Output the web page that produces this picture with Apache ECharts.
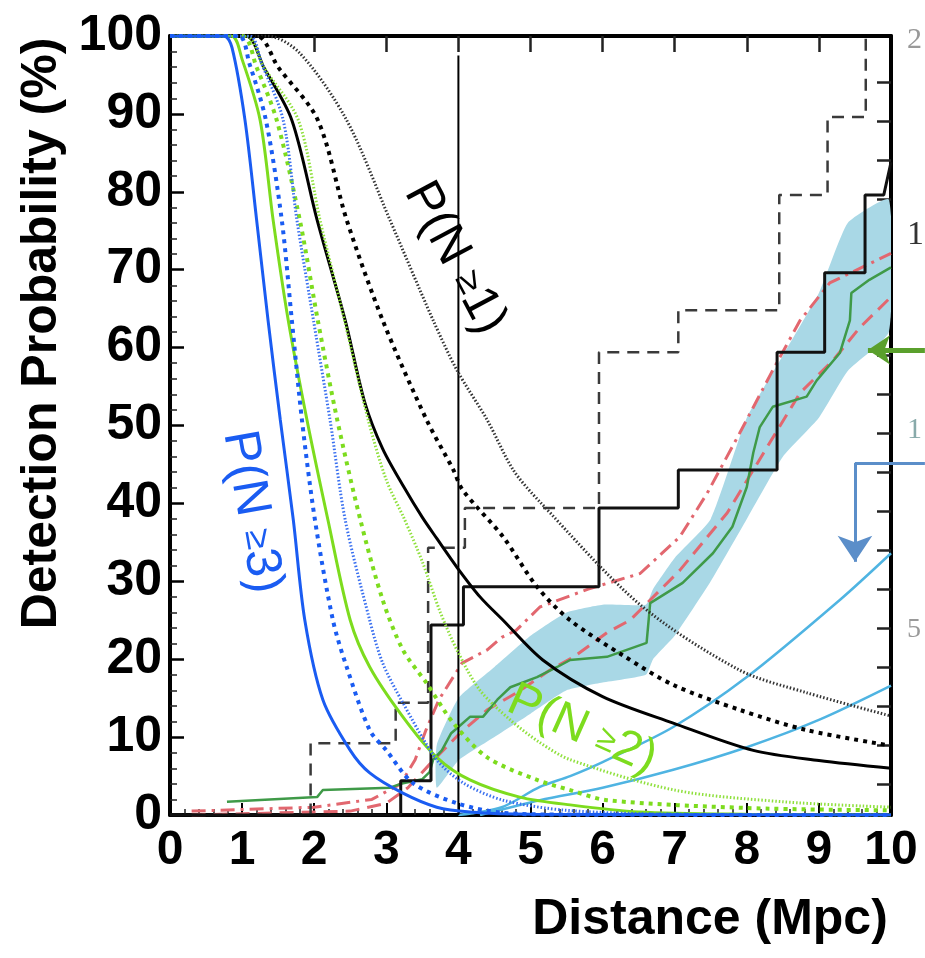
<!DOCTYPE html>
<html>
<head>
<meta charset="utf-8">
<script src="https://cdn.jsdelivr.net/npm/echarts@6/dist/echarts.min.js"></script>
<style>
  html, body { margin: 0; padding: 0; background: #fff; }
  #chart { width: 925px; height: 958px; }
</style>
</head>
<body>
<div id="chart"></div>
<script>
// Axis ticks
const xTicks = [0, 1, 2, 3, 4, 5, 6, 7, 8, 9, 10];
const yTicks = [0, 10, 20, 30, 40, 50, 60, 70, 80, 90, 100];
const topTickValues = [2, 3, 4, 5, 6, 7, 8, 9];
const rightTickValues = [4, 9, 14, 19, 24, 29, 34, 39, 44, 49, 54, 59, 64, 69, 74, 79, 84, 89, 94];

// Detection probability, P(N>=3)
const blueSolid = [[0,100],[0.75,100],[0.86,98.5],[1.04,89.2],[1.2,76.5],[1.36,63.5],[1.53,50.7],[1.71,37.9],[1.87,25],[2.12,14.8],[2.5,8.3],[2.77,5.4],[3.23,2.8],[3.7,1.0],[4.16,0.4],[5,0.1],[10,0]];
const blueDash = [[0,100],[0.95,100],[1.1,96.5],[1.33,89.2],[1.55,76.4],[1.69,63.5],[1.83,50.7],[2.01,37.9],[2.26,25],[2.45,19],[2.77,10.9],[3.0,8.3],[3.37,4.1],[3.98,1.5],[4.6,0.3],[5.5,0.05],[10,0]];
const blueDot = [[0,100],[1.1,100],[1.27,96.5],[1.57,89.2],[1.76,76.4],[1.99,63.5],[2.22,50.7],[2.43,37.9],[2.77,25],[2.95,19.5],[3.23,14.4],[3.7,7.1],[4.07,4.1],[4.62,1.9],[5.5,0.6],[7,0.1],[10,0]];

// Detection probability, P(N>=2)
const greenSolid = [[0,100],[0.85,100],[1.0,97],[1.25,89.2],[1.43,76.4],[1.64,63.5],[1.9,50.7],[2.19,37.9],[2.5,25],[2.77,19],[3.23,12.6],[3.7,7.4],[4.16,4.5],[4.85,2.3],[5.55,1.3],[6.5,0.4],[8,0.1],[10,0]];
const greenDash = [[0,100],[1.0,100],[1.2,96],[1.48,89.2],[1.8,76.4],[2.05,63.5],[2.32,50.7],[2.64,37.9],[2.95,27.6],[3.23,21.2],[3.56,16.9],[3.93,11.8],[4.4,7.4],[5.09,4.5],[5.55,3.2],[6.06,1.9],[8,0.9],[10,0.6]];
const greenDot = [[0,100],[1.05,100],[1.3,96],[1.78,89.2],[2.08,76.4],[2.42,63.5],[2.75,50.7],[3.0,43],[3.25,38],[3.5,32.5],[3.75,26],[4.0,20.8],[4.3,16],[4.72,12.2],[5.13,9.3],[5.55,7.1],[7.0,3.2],[8.5,1.7],[10,1.0]];

// Detection probability, P(N>=1)
const blackSolid = [[0,100],[1.05,100],[1.3,96],[1.69,89.2],[2.04,76.4],[2.43,63.5],[2.7,53],[2.95,47],[3.25,42],[3.5,38.2],[3.7,35.5],[3.98,31.8],[4.3,28],[4.62,25],[5.17,19.9],[6.0,15.2],[6.98,11.8],[8.09,8.3],[9.0,7.0],[10,6.0]];
const blackDash = [[0,100],[1.2,100],[1.5,96],[2.05,89.2],[2.45,76.4],[2.95,63.5],[3.56,50.7],[3.93,44.3],[4.06,41.7],[4.62,35.7],[5.09,29.3],[5.55,25],[6.28,20.5],[6.98,16.7],[7.9,13.5],[8.83,10.9],[10,8.9]];
const blackDot = [[0,100],[1.35,100],[1.8,97.8],[2.45,89.2],[3.05,76.4],[3.65,63.5],[3.98,57.1],[4.4,50.7],[4.76,44.3],[5.13,40.2],[6.52,27],[7.9,18.6],[8.83,15.7],[10,12.7]];

// Cumulative host counts (step curves)
const stepSolid = [[0,0],[3.2,0],[3.2,4.4],[3.62,4.4],[3.62,24.4],[4.07,24.4],[4.07,29.3],[5.95,29.3],[5.95,39.4],[7.05,39.4],[7.05,44.3],[8.42,44.3],[8.42,59.4],[9.08,59.4],[9.08,69.6],[9.64,69.6],[9.64,79.6],[9.9,79.6],[10,83.8]];
const stepDashed = [[0,0],[1.95,0],[1.95,9.2],[3.13,9.2],[3.13,14.4],[3.58,14.4],[3.58,34.3],[4.09,34.3],[4.09,39.4],[5.95,39.4],[5.95,59.4],[7.05,59.4],[7.05,64.8],[8.45,64.8],[8.45,79.6],[9.12,79.6],[9.12,89.6],[9.65,89.6],[9.65,100]];

// Cumulative luminosity curve and its uncertainty band
const greenTrack = [[0.79,1.7],[2.04,2.3],[2.12,3.2],[3.05,3.5],[3.2,4.0],[3.5,4.6],[3.6,5.5],[3.65,7.1],[3.77,8.3],[3.9,10.5],[4.0,11.3],[4.16,12.6],[4.34,12.6],[4.54,14.8],[4.72,16.4],[5.09,17.7],[5.37,19.0],[5.55,19.9],[6.06,20.3],[6.61,22.1],[6.66,27.2],[7.11,29.8],[7.53,33.6],[7.8,37],[8.0,42.1],[8.09,46.5],[8.18,49.8],[8.36,52.4],[8.83,53.7],[8.97,55.8],[9.29,59.3],[9.43,63.5],[9.45,67],[9.7,68.7],[10,70.3]];
const bandX = [3.7, 4.0, 4.5, 5.0, 5.5, 6.0, 6.6, 6.7, 7.0, 7.5, 8.0, 8.5, 9.0, 9.4, 9.97];
const bandLow = [3.5, 7, 10, 13, 16, 17, 18, 20, 23, 30, 38, 46, 51, 57, 62];
const bandHigh = [9, 15, 19, 23, 26, 27, 27, 29, 33, 38, 51, 59, 67, 76, 79];

// Model curves (red)
const redDashDot = [[0.3,0.5],[2.0,1.0],[2.8,2.0],[3.2,4.0],[3.4,7.1],[3.55,10.9],[3.73,14.8],[4.05,19.5],[4.4,21.2],[4.6,22.8],[4.8,23.7],[5.13,26.7],[5.8,29],[6.52,31],[7.07,35.7],[7.45,41.3],[7.9,49],[8.36,57.1],[8.74,63.5],[9.15,68.3],[10,72.1]];
const redDash = [[0.3,0],[2.5,0.5],[3.0,1.5],[3.3,3.5],[3.6,6.5],[4.02,10.5],[4.4,13.5],[4.81,15.7],[5.27,18.6],[5.6,20.3],[6.06,23.4],[6.38,25],[7.07,31.4],[7.73,38.8],[8.28,47.2],[8.74,54.2],[9.2,58.4],[9.57,62.6],[10,66.5]];

// Rising light-blue curves
const cyanUpper = [[4.0,0],[4.6,1.0],[5.13,3.6],[5.55,5.0],[6.0,6.8],[6.98,11.3],[8.0,17.7],[9.29,27.6],[10,33.6]];
const cyanLower = [[4.3,0],[5.13,1.9],[6.0,3.5],[6.98,5.8],[8.0,8.7],[9.0,12.2],[10,16.6]];

// Reference distance marker and arrows
const markerLine = [[4,0],[4,97.5]];
const blueArrowTail = [[10.47,45.2],[9.5,45.2]];
const blueArrowHead = [[9.5,45.2],[9.5,32.5]];
const greenArrow = [[10.47,59.7],[9.68,59.7]];

const FONT = '"Liberation Sans", Arial, Helvetica, sans-serif';

function curve(data, color, width, type, z) {
  return {
    type: 'line', data: data, symbol: 'none', smooth: 0.3,
    lineStyle: { color: color, width: width, type: type || 'solid', cap: 'butt' },
    z: z || 5, silent: true
  };
}
function poly(data, color, width, type, z) {
  return {
    type: 'line', data: data, symbol: 'none', smooth: false,
    lineStyle: { color: color, width: width, type: type || 'solid' },
    z: z || 3, silent: true
  };
}
function arrow(coords, color, width, head, withHead) {
  return {
    type: 'lines', coordinateSystem: 'cartesian2d', clip: false, silent: true, z: 7,
    symbol: withHead ? ['none', 'arrow'] : ['none', 'none'], symbolSize: head,
    lineStyle: { color: color, width: width, opacity: 1, curveness: 0 },
    data: [{ coords: coords }]
  };
}

const chart = echarts.init(document.getElementById('chart'), null, { renderer: 'canvas' });

const series = [
  // uncertainty band around the luminosity curve
  {
    type: 'custom', coordinateSystem: 'cartesian2d', silent: true, z: 1, clip: true,
    data: [[bandX[0], bandLow[0]]],
    renderItem: function (params, api) {
      const top = bandX.map((x, i) => api.coord([x, bandHigh[i]]));
      const bottom = bandX.map((x, i) => api.coord([x, bandLow[i]])).reverse();
      return {
        type: 'polygon',
        shape: { points: top.concat(bottom), smooth: 0.15 },
        style: { fill: '#a9d8e6' }
      };
    }
  },
  poly(redDashDot, '#e2676f', 3, [14, 6, 3, 6], 2),
  poly(redDash, '#e2676f', 3, [14, 8], 2),
  poly(greenTrack, '#3f9a48', 2.5, 'solid', 3),
  curve(cyanUpper, '#4fb4e2', 2.5, 'solid', 3),
  curve(cyanLower, '#4fb4e2', 2.5, 'solid', 3),
  poly(stepDashed, '#3a3a3a', 2.5, [12, 8], 4),
  poly(stepSolid, '#111', 3, 'solid', 4),
  poly(markerLine, '#000', 2, 'solid', 4),
  curve(blackDot, '#333', 3, [1.5, 2], 6),
  curve(blackDash, '#000', 4, [4, 5], 6),
  curve(blackSolid, '#000', 3, 'solid', 6),
  curve(greenDot, '#8fe03c', 3, [1.5, 2], 6),
  curve(greenDash, '#7ddc1e', 4, [4, 5], 6),
  curve(greenSolid, '#7ddc1e', 3, 'solid', 6),
  curve(blueDot, '#3a70f0', 3, [1.5, 2], 6),
  curve(blueDash, '#1a5cf2', 4, [4, 5], 6),
  curve(blueSolid, '#1a5cf2', 3, 'solid', 6),
  arrow(blueArrowTail, '#5b8ec9', 3, 10, false),
  arrow(blueArrowHead, '#5b8ec9', 3, [20, 26], true),
  arrow(greenArrow, '#5aa02c', 5, [24, 22], true)
];

const option = {
  animation: false,
  backgroundColor: '#fff',
  grid: { left: 170, right: 34, top: 36, bottom: 143, containLabel: false },
  xAxis: [
    {
      type: 'value', position: 'bottom', min: xTicks[0], max: xTicks[xTicks.length - 1], interval: 1,
      axisLine: { show: true, onZero: false, lineStyle: { color: '#000', width: 4 } },
      axisTick: { show: true, inside: true, length: 12, lineStyle: { color: '#000', width: 2 } },
      minorTick: { show: true, splitNumber: 5, length: 6, lineStyle: { color: '#222', width: 1.5 } },
      splitLine: { show: false },
      axisLabel: { fontSize: 48, fontWeight: 'bold', fontFamily: FONT, color: '#000', margin: 12 },
      name: 'Distance (Mpc)', nameLocation: 'middle', nameGap: 80,
      nameTextStyle: { fontSize: 50, fontWeight: 'bold', fontFamily: FONT, color: '#000', padding: [0, 0, 0, 359] }
    },
    {
      type: 'value', position: 'top', min: 0, max: 10,
      axisLine: { show: true, onZero: false, lineStyle: { color: '#000', width: 4 } },
      axisTick: { show: true, inside: true, length: 16, customValues: topTickValues, lineStyle: { color: '#222', width: 2.5 } },
      axisLabel: { show: false }, splitLine: { show: false }
    }
  ],
  yAxis: [
    {
      type: 'value', position: 'left', min: yTicks[0], max: yTicks[yTicks.length - 1], interval: 10,
      axisLine: { show: true, onZero: false, lineStyle: { color: '#000', width: 4 } },
      axisTick: { show: true, inside: true, length: 14, lineStyle: { color: '#000', width: 2.5 } },
      minorTick: { show: true, splitNumber: 5, length: 7, lineStyle: { color: '#222', width: 1.5 } },
      splitLine: { show: false },
      axisLabel: { fontSize: 50, fontWeight: 'bold', fontFamily: FONT, color: '#000', margin: 8 },
      name: 'Detection Probability (%)', nameLocation: 'middle', nameGap: 100,
      nameTextStyle: { fontSize: 50, fontWeight: 'bold', fontFamily: FONT, color: '#000', padding: [0, 0, 0, 184] }
    },
    {
      type: 'value', position: 'right', min: 0, max: 100,
      axisLine: { show: true, onZero: false, lineStyle: { color: '#000', width: 4 } },
      axisTick: { show: true, inside: true, length: 14, customValues: rightTickValues, lineStyle: { color: '#222', width: 2.5 } },
      axisLabel: { show: false }, splitLine: { show: false }
    }
  ],
  series: series,
  graphic: [
    { type: 'text', x: 455, y: 258, rotation: -62 * Math.PI / 180, z: 20,
      style: { text: 'P(N {g|≥}1)', fontSize: 50, fontFamily: FONT, fill: '#000', align: 'center', verticalAlign: 'middle',
               rich: { g: { fontSize: 36, fontFamily: FONT, fill: '#000' } } } },
    { type: 'text', x: 252, y: 512, rotation: -80 * Math.PI / 180, z: 20,
      style: { text: 'P(N {g|≥}3)', fontSize: 50, fontFamily: FONT, fill: '#1a5cf2', align: 'center', verticalAlign: 'middle',
               rich: { g: { fontSize: 36, fontFamily: FONT, fill: '#1a5cf2' } } } },
    { type: 'text', x: 582, y: 730, rotation: -24 * Math.PI / 180, z: 20,
      style: { text: 'P(N {g|≥}2)', fontSize: 48, fontFamily: FONT, fill: '#7ddc1e', align: 'center', verticalAlign: 'middle',
               rich: { g: { fontSize: 34, fontFamily: FONT, fill: '#7ddc1e' } } } },
    { type: 'text', x: 907, y: 40, z: 20, style: { text: '2', fontSize: 30, fontFamily: '"Liberation Serif", serif', fill: '#999', verticalAlign: 'middle' } },
    { type: 'text', x: 907, y: 235, z: 20, style: { text: '1', fontSize: 34, fontFamily: '"Liberation Serif", serif', fill: '#333', verticalAlign: 'middle' } },
    { type: 'text', x: 907, y: 430, z: 20, style: { text: '1', fontSize: 30, fontFamily: '"Liberation Serif", serif', fill: '#8aa', verticalAlign: 'middle' } },
    { type: 'text', x: 907, y: 630, z: 20, style: { text: '5', fontSize: 28, fontFamily: '"Liberation Serif", serif', fill: '#999', verticalAlign: 'middle' } }
  ]
};

chart.setOption(option);
</script>
</body>
</html>
